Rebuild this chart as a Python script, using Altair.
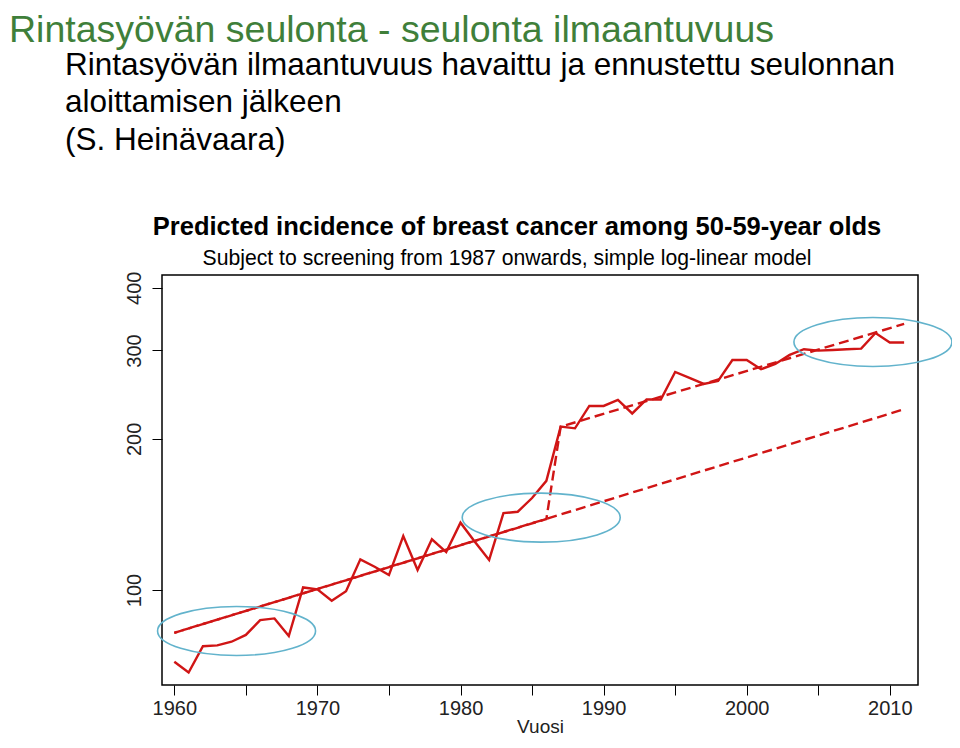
import altair as alt
import pandas as pd

# ---------------- data ----------------
years = list(range(1960, 2012))
observed = [72.0, 68.5, 77.3, 77.6, 78.9, 81.4, 87.1, 87.8, 81.0, 101.2,
            100.3, 95.2, 99.5, 115.1, 111.3, 107.1, 128.1, 109.6, 126.2, 119.0,
            136.2, 124.8, 114.8, 142.3, 143.2, 152.5, 165.0, 211.5, 209.9, 232.6,
            232.6, 239.1, 224.7, 239.6, 239.6, 271.8, 264.5, 257.3, 260.9, 287.2,
            287.2, 275.2, 282.0, 293.9, 301.7, 299.7, 300.6, 301.7, 302.5, 325.0,
            311.2, 311.2]

base_years = [1960, 2011]
base_pred = [82.2, 229.1]

screen_years = [1960, 1986, 1987, 2011]
screen_pred = [82.2, 138.5, 211.5, 338.8]

ellipse_years = [1964.35, 1985.64, 2008.82]
ellipse_values = [82.9, 139.4, 311.8]

x_ticks = [1960, 1965, 1970, 1975, 1980, 1985, 1990, 1995, 2000, 2005, 2010]
y_ticks = [100, 200, 300, 400]

slide_title = "Rintasyövän seulonta - seulonta ilmaantuvuus"
slide_lines = ["Rintasyövän ilmaantuvuus havaittu ja ennustettu seulonnan",
               "aloittamisen jälkeen",
               "(S. Heinävaara)"]
plot_title = "Predicted incidence of breast cancer among 50-59-year olds"
plot_subtitle = "Subject to screening from 1987 onwards, simple log-linear model"
x_title = "Vuosi"

# ---------------- tables ----------------
obs_df = pd.DataFrame({"year": years, "value": observed})
base_df = pd.DataFrame({"year": base_years, "value": base_pred})
screen_df = pd.DataFrame({"year": screen_years, "value": screen_pred})
ell_df = pd.DataFrame({"year": ellipse_years, "value": ellipse_values})

RED = "#d01515"
FONT = "Liberation Sans"

xscale = alt.Scale(domain=[1959.14, 2011.97], nice=False, zero=False)
yscale = alt.Scale(type="log", domain=[64.7, 424], nice=False)

xenc = alt.X("year:Q", scale=xscale, title=x_title,
             axis=alt.Axis(values=x_ticks, format="d",
                           labelExpr="datum.value % 10 == 0 ? datum.label : ''",
                           tickSize=10, labelPadding=3, labelFontSize=20,
                           titleFontSize=19, titleFontWeight="normal",
                           titlePadding=-1, domain=False, grid=False,
                           tickColor="black", labelColor="#222",
                           titleColor="#222", labelFont=FONT, titleFont=FONT))
yenc = alt.Y("value:Q", scale=yscale, title=None,
             axis=alt.Axis(values=y_ticks, labelAngle=270, labelAlign="center",
                           labelBaseline="bottom", tickSize=10, labelPadding=8,
                           labelFontSize=20, domain=False, grid=False,
                           tickColor="black", labelColor="#222", labelFont=FONT))

obs = alt.Chart(obs_df).mark_line(color=RED, strokeWidth=2.4).encode(x=xenc, y=yenc)
base = alt.Chart(base_df).mark_line(color=RED, strokeWidth=2.4,
                                    strokeDash=[10, 5]).encode(x="year:Q", y="value:Q")
screen = alt.Chart(screen_df).mark_line(color=RED, strokeWidth=2.4, strokeDash=[10, 5],
                                        strokeDashOffset=7).encode(x="year:Q", y="value:Q")

ellipse_path = "M -1 0 A 1 0.31 0 1 0 1 0 A 1 0.31 0 1 0 -1 0 Z"
ells = alt.Chart(ell_df).mark_point(shape=ellipse_path, size=24964, filled=False,
                                    stroke="#62b3cc", strokeWidth=1.6,
                                    opacity=1).encode(x="year:Q", y="value:Q")


def txt(text, x, y, size, color="black", weight="normal", align="left"):
    return alt.Chart(alt.Data(values=[{}])).mark_text(
        text=text, align=align, baseline="alphabetic", fontSize=size,
        font=FONT, color=color, fontWeight=weight
    ).encode(x=alt.value(x), y=alt.value(y))


texts = [
    txt(slide_title, -153, -233, 37.5, color="#3f7f3a"),
    txt(slide_lines[0], -97, -200, 31.5),
    txt(slide_lines[1], -97, -163, 31.5),
    txt(slide_lines[2], -97, -125, 31.5),
    txt(plot_title, 355, -40, 25.5, weight="bold", align="center"),
    txt(plot_subtitle, 345, -10, 21.2, align="center"),
]

chart = alt.layer(obs, base, screen, ells, *texts).properties(
    width=756, height=410,
    autosize=alt.AutoSizeParams(type="none"),
    padding={"left": 154, "top": 267, "right": 34, "bottom": 50},
).configure_view(stroke="black", strokeWidth=1.5)

chart.save("out.html", embed_options={"renderer": "svg", "actions": False})
